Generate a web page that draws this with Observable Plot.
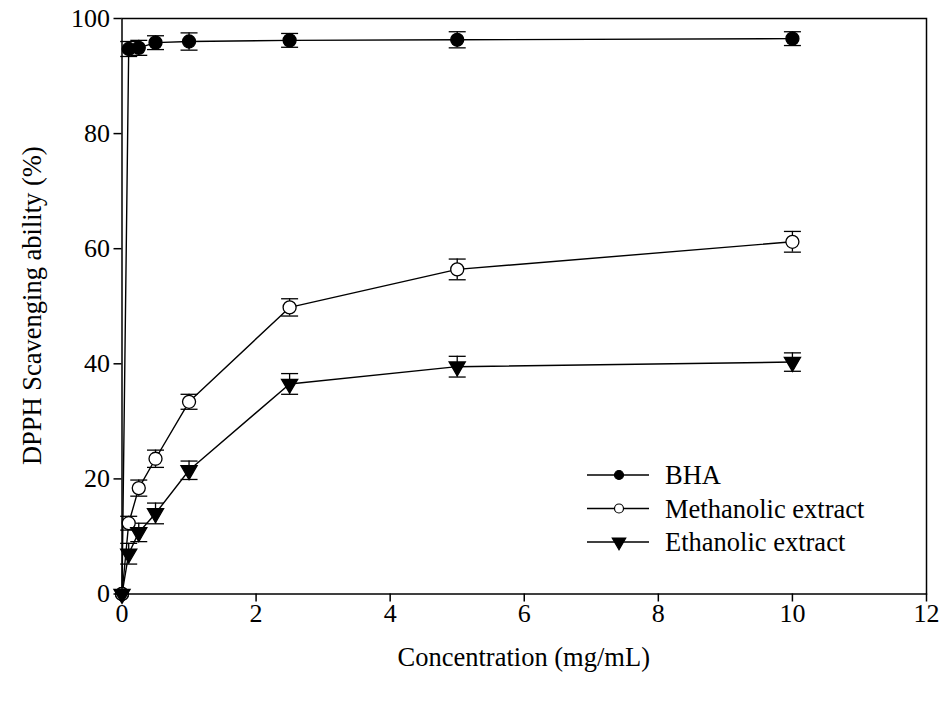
<!DOCTYPE html>
<html>
<head>
<meta charset="utf-8">
<script src="https://cdn.jsdelivr.net/npm/d3@7"></script>
<script src="https://cdn.jsdelivr.net/npm/@observablehq/plot@0.6"></script>
<style>
  html, body { margin: 0; padding: 0; background: #fff; }
  #chart { position: relative; width: 944px; height: 702px; }
</style>
</head>
<body>
<div id="chart"></div>
<script>
// Concentrations (mg/mL)
const conc = [0, 0.1, 0.25, 0.5, 1, 2.5, 5, 10];
// DPPH scavenging ability (%) and error bars
const bha      = [0, 94.7, 94.9, 95.8, 96.0, 96.2, 96.3, 96.5];
const bhaErr   = [0, 1.3, 1.3, 1.2, 1.5, 1.2, 1.4, 1.2];
const meth     = [0, 12.3, 18.4, 23.5, 33.4, 49.8, 56.4, 61.2];
const methErr  = [0, 1.2, 1.4, 1.5, 1.3, 1.5, 1.8, 1.8];
const eth      = [0, 7.0, 10.7, 14.0, 21.5, 36.5, 39.5, 40.3];
const ethErr   = [0, 1.8, 1.6, 1.8, 1.6, 1.8, 1.8, 1.6];

const seriesNames = ["BHA", "Methanolic extract", "Ethanolic extract"];
const xTicks = [0, 2, 4, 6, 8, 10, 12];
const yTicks = [0, 20, 40, 60, 80, 100];
const xLabel = "Concentration (mg/mL)";
const yLabel = "DPPH Scavenging ability (%)";

const seriesDefs = [
  {name: seriesNames[0], values: bha, errs: bhaErr, symbol: "circle", fill: "black", rotate: 0},
  {name: seriesNames[1], values: meth, errs: methErr, symbol: "circle", fill: "white", rotate: 0},
  {name: seriesNames[2], values: eth, errs: ethErr, symbol: "triangle", fill: "black", rotate: 180}
];

const rows = [];
for (const s of seriesDefs) {
  conc.forEach((c, i) => rows.push({series: s.name, x: c, y: s.values[i], lo: s.values[i] - s.errs[i], hi: s.values[i] + s.errs[i], err: s.errs[i]}));
}
const errRows = rows.filter(d => d.err > 0);

const capSymbol = {
  draw(context, size) {
    const h = Math.sqrt(size / Math.PI);
    context.moveTo(-h, 0);
    context.lineTo(h, 0);
  }
};

const font = "'Liberation Serif', 'Times New Roman', serif";

const marks = [
  Plot.ruleX(errRows, {x: "x", y1: "lo", y2: "hi", stroke: "black", strokeWidth: 1.3}),
  Plot.dot(errRows, {x: "x", y: "lo", symbol: capSymbol, r: 8.5, stroke: "black", strokeWidth: 1.3, fill: "none"}),
  Plot.dot(errRows, {x: "x", y: "hi", symbol: capSymbol, r: 8.5, stroke: "black", strokeWidth: 1.3, fill: "none"}),
  Plot.line(rows, {x: "x", y: "y", z: "series", stroke: "black", strokeWidth: 1.4})
];
for (const s of seriesDefs) {
  const data = rows.filter(d => d.series === s.name);
  marks.push(Plot.dot(data, {x: "x", y: "y", symbol: s.symbol, r: s.symbol === "circle" ? 6.5 : 6, fill: s.fill, stroke: "black", strokeWidth: 1.3, rotate: s.rotate}));
}
marks.push(
  Plot.frame({stroke: "black", strokeWidth: 1.5}),
  Plot.axisX({ticks: xTicks, tickSize: 8, tickPadding: 2, label: null, strokeWidth: 1.5, fontSize: 26}),
  Plot.axisY({ticks: yTicks, tickSize: 8, tickPadding: 4, label: null, strokeWidth: 1.5, fontSize: 26})
);

const plot = Plot.plot({
  width: 944,
  height: 702,
  marginLeft: 121.5,
  marginRight: 18,
  marginTop: 18,
  marginBottom: 108.5,
  x: {domain: [0, 12]},
  y: {domain: [0, 100]},
  style: {fontFamily: font, fontSize: "26px", color: "black", background: "white", overflow: "visible"},
  marks
});
document.getElementById("chart").appendChild(plot);

const svg = d3.select(plot);
const xs = plot.scale("x"), ys = plot.scale("y");
const cx = (xs.range[0] + xs.range[1]) / 2;
const cy = (ys.range[0] + ys.range[1]) / 2;

// Axis titles
svg.append("text").attr("x", cx).attr("y", 666).attr("text-anchor", "middle")
  .attr("font-family", font).attr("font-size", 26.5).attr("fill", "black").text(xLabel);
svg.append("text").attr("transform", `translate(41,${cy}) rotate(-90)`).attr("text-anchor", "middle")
  .attr("font-family", font).attr("font-size", 26.5).attr("fill", "black").text(yLabel);

// Legend (inside plot area, lower right)
const leg = svg.append("g").attr("transform", "translate(587,475)");
seriesDefs.forEach((s, i) => {
  const g = leg.append("g").attr("transform", `translate(0,${i * 33.5})`);
  g.append("line").attr("x1", 0).attr("x2", 62).attr("y1", 0).attr("y2", 0).attr("stroke", "black").attr("stroke-width", 1.4);
  const sym = s.symbol === "circle" ? d3.symbolCircle : d3.symbolTriangle;
  g.append("path").attr("d", d3.symbol(sym, s.symbol === "circle" ? Math.PI * 4.5 * 4.5 : Math.PI * 5 * 5)())
    .attr("transform", `translate(32,0) rotate(${s.rotate})`)
    .attr("fill", s.fill).attr("stroke", "black").attr("stroke-width", 1.2);
  g.append("text").attr("x", 78).attr("y", 0).attr("dy", "0.35em").attr("text-anchor", "start")
    .attr("font-family", font).attr("font-size", 26.5).attr("fill", "black").text(s.name);
});
</script>
</body>
</html>
